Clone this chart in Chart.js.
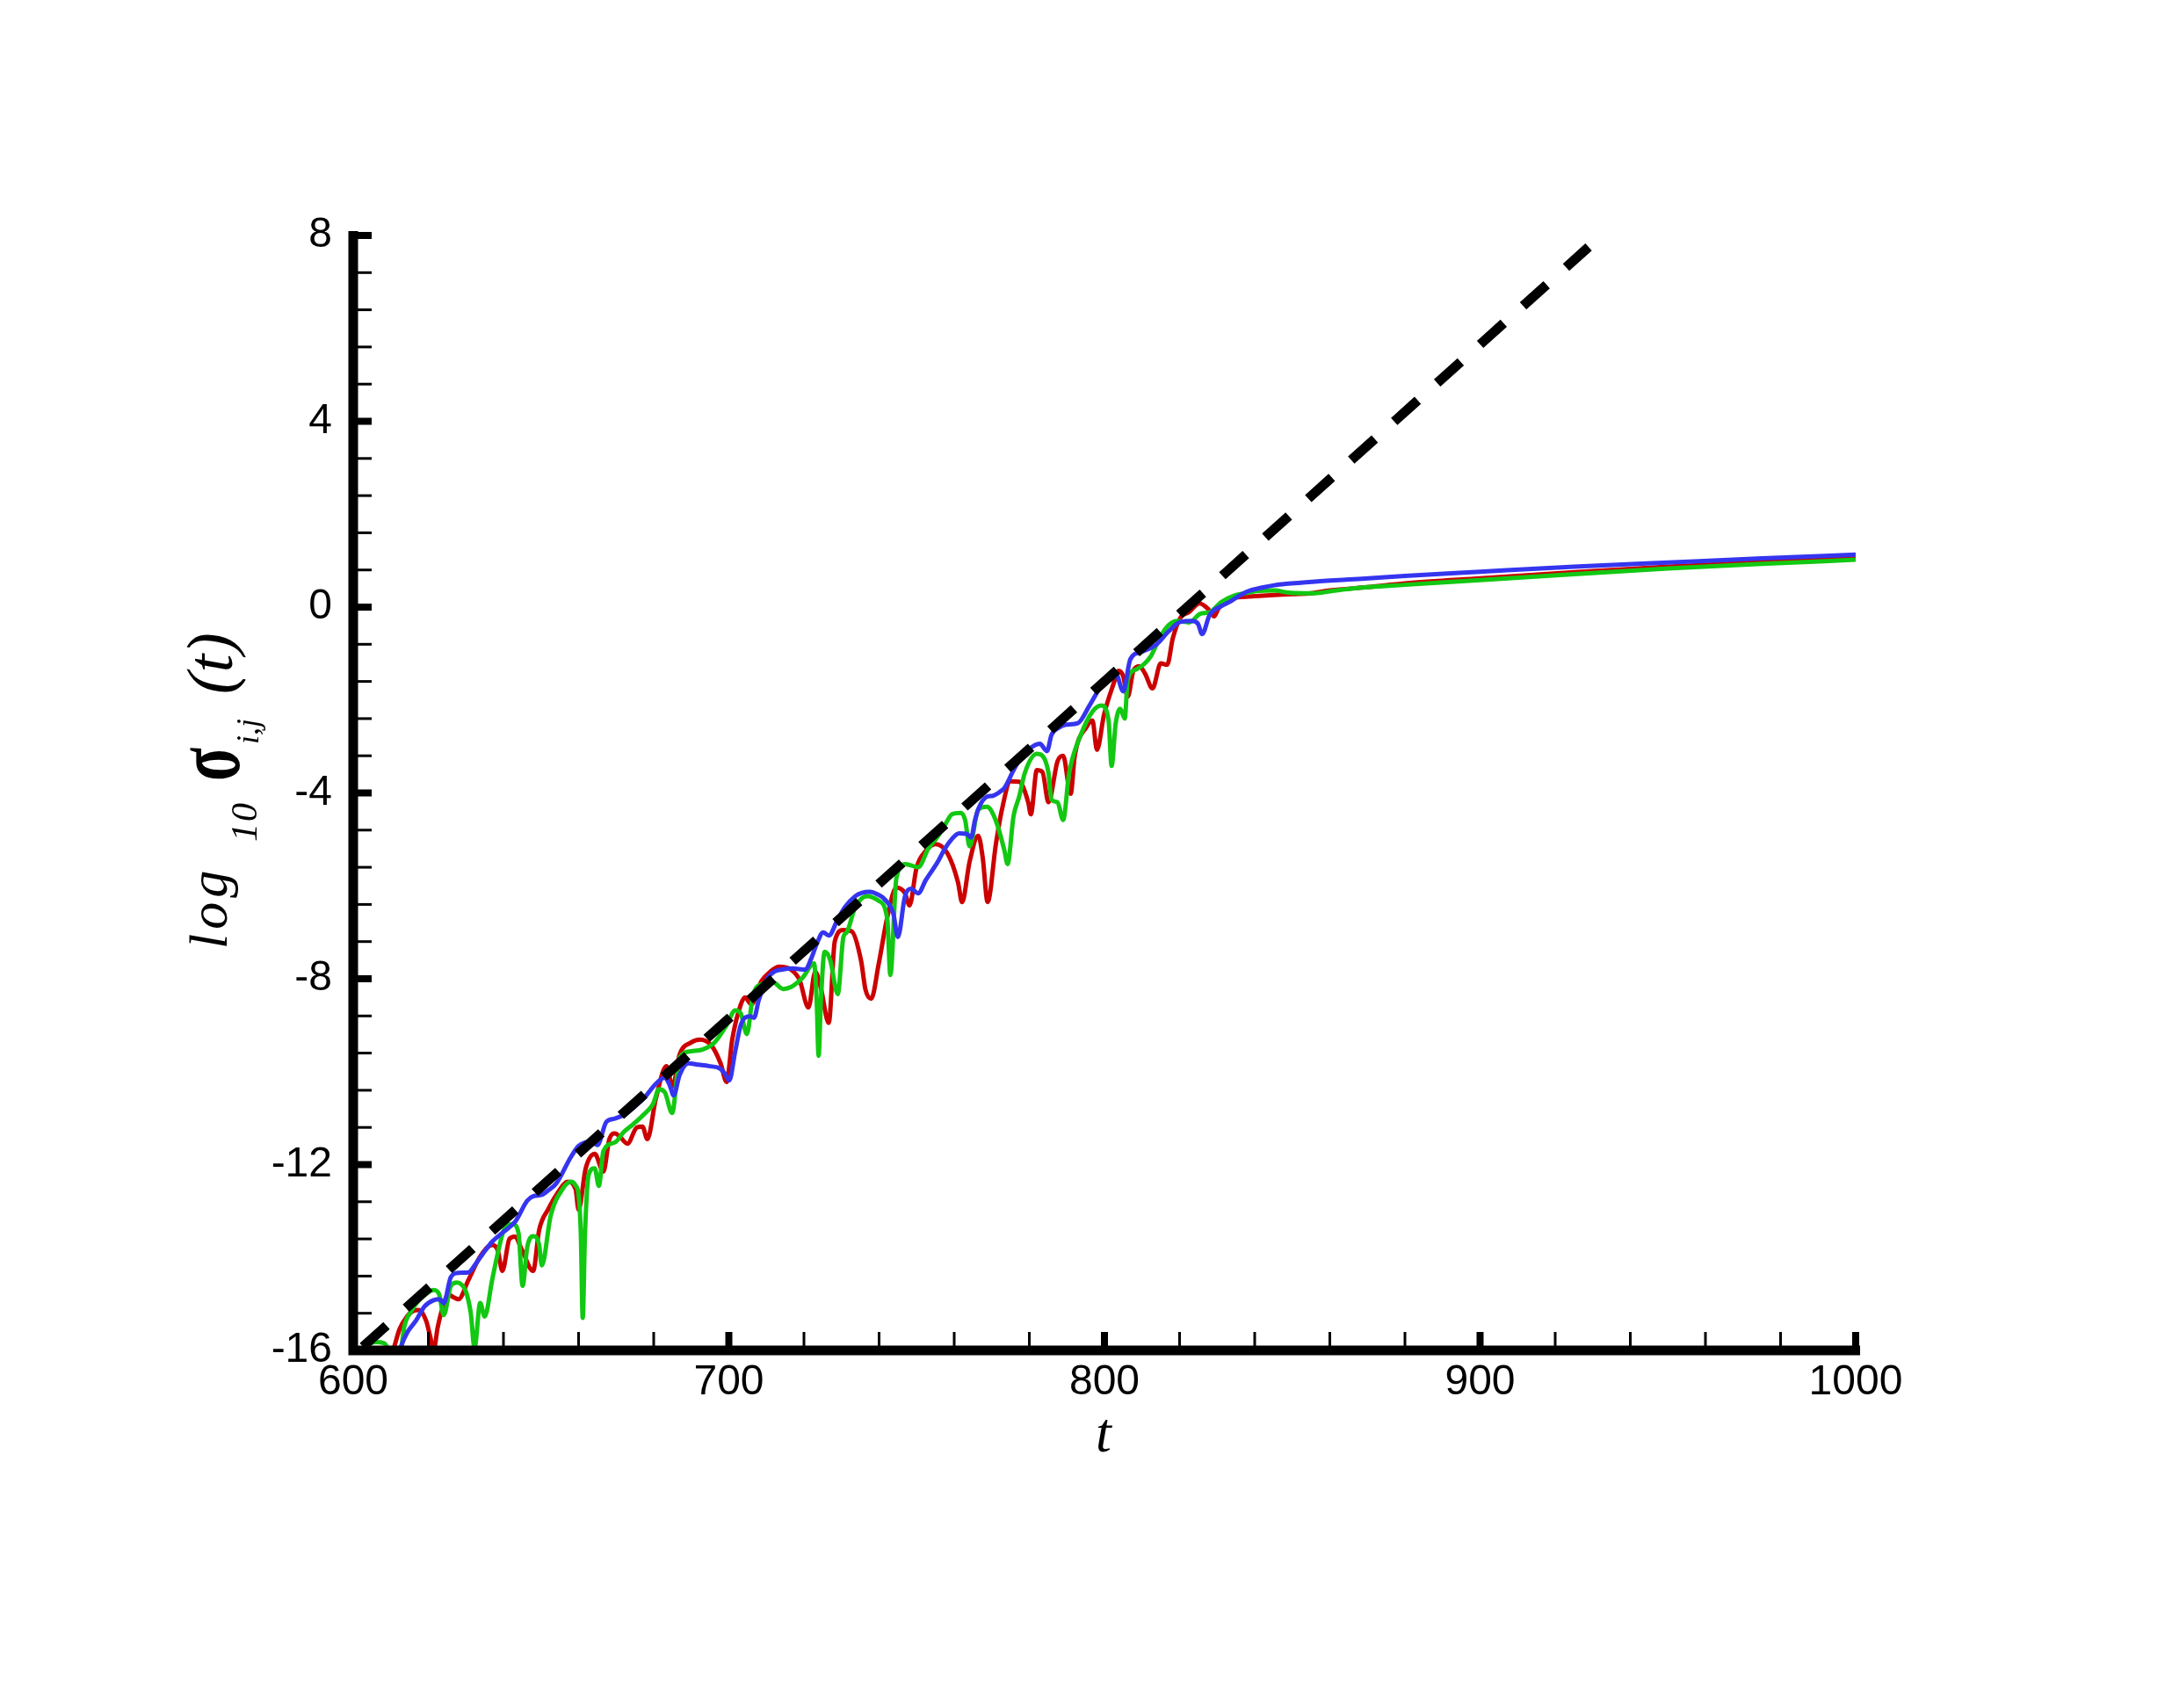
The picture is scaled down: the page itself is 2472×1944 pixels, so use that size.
<!DOCTYPE html>
<html>
<head>
<meta charset="utf-8">
<script src="https://cdn.jsdelivr.net/npm/chart.js@4"></script>
<style>
  html, body { margin: 0; padding: 0; background: #fff; }
  canvas { display: block; }
</style>
</head>
<body>
<canvas id="chart" width="2472" height="1944"></canvas>
<script>
// fitted growth rate (dashed)
const fitT = [602.6, 928.9];
const fitV = [-15.92, 7.75];

const redT = [609.5, 611, 612.3, 614.3, 616, 617.5, 619.4, 620.5, 621.4, 622.5, 623.7, 625.3, 626.8, 628, 630.7, 633.8, 637, 638.5, 639.7, 641.6, 643, 645, 647.9, 649.5, 652, 654.1, 657.2, 659.2, 660, 661.9, 664.3, 666.6, 668.2, 669.7, 671, 673, 675.5, 677, 678.3, 680.6, 683.4, 685, 686.9, 690, 692.3, 695.4, 697.8, 699.4, 700.9, 703.2, 704.3, 706, 708.7, 711, 713.4, 716.5, 718.8, 721.2, 723, 724.5, 726.6, 728.2, 730.5, 732.7, 735.2, 736.4, 737.9, 739.9, 742.2, 744.6, 746.9, 748.1, 750, 752.4, 755, 758.2, 761, 762.1, 764.1, 766.4, 767.6, 768.9, 771.1, 772.6, 775, 777.3, 779.7, 780.4, 782, 783.5, 785.1, 787.5, 789, 791, 792.1, 795.3, 796.8, 798, 799.9, 802.3, 803.8, 805, 806.2, 807.7, 809.3, 810.8, 812.8, 815, 816.7, 818.2, 820.2, 822.5, 825.3, 827.6, 829.2, 830.3, 833.5, 837.4, 845, 850, 855, 860, 870, 880, 900, 925, 950, 975, 1000];
const redV = [-16.3, -15.9, -15.55, -15.27, -15.15, -15.13, -15.36, -15.7, -16.0, -15.5, -15.11, -14.8, -14.86, -14.9, -14.48, -13.98, -13.73, -13.85, -14.29, -13.6, -13.55, -13.85, -14.29, -13.41, -12.95, -12.65, -12.37, -12.53, -12.97, -12.08, -11.77, -12.15, -11.45, -11.33, -11.4, -11.55, -11.2, -11.18, -11.45, -10.57, -9.88, -10.32, -9.63, -9.37, -9.31, -9.44, -9.82, -10.22, -9.31, -8.55, -8.4, -8.55, -8.05, -7.85, -7.74, -7.8, -8.02, -8.62, -7.85, -8.2, -8.95, -7.2, -6.95, -6.98, -7.61, -8.24, -8.43, -7.68, -6.67, -6.04, -6.16, -6.42, -5.6, -5.25, -5.1, -5.3, -5.92, -6.35, -5.48, -4.92, -5.4, -6.35, -5.1, -4.4, -3.75, -3.76, -4.2, -4.46, -3.51, -3.55, -4.2, -3.32, -3.2, -4.02, -3.2, -2.57, -2.44, -3.07, -2.31, -1.68, -1.37, -1.49, -1.93, -1.37, -1.27, -1.43, -1.75, -1.21, -1.24, -0.67, -0.23, -0.11, 0.08, -0.04, -0.2, -0.04, 0.18, 0.22, 0.26, 0.28, 0.3, 0.36, 0.43, 0.51, 0.62, 0.75, 0.87, 0.97, 1.06];

const greenT = [602.5, 604.2, 606, 608.1, 609.5, 610.5, 612.5, 613.6, 615.5, 617.5, 619.5, 621.4, 622.9, 624.1, 626, 627.6, 628.8, 630, 631.3, 632.3, 633.8, 635, 637, 638.5, 640.1, 642.4, 644, 645.1, 646.3, 647.9, 649.5, 650.2, 652.6, 655.7, 658, 659.2, 660, 660.6, 661.1, 661.7, 662.7, 664.3, 665.4, 666.6, 669.7, 672, 674.4, 677, 679.8, 681.4, 683, 684.9, 686.9, 690, 693.1, 696.2, 699.4, 701.7, 703.2, 704.8, 706.4, 708.7, 711.8, 714.5, 716.5, 719.6, 722.7, 723.4, 723.9, 724.5, 725.5, 727, 729, 730.5, 731.4, 733.6, 736.7, 739.9, 742.2, 743, 744.6, 747, 750.4, 753.1, 755.5, 757.8, 759.4, 761.7, 762.9, 764.1, 766.4, 768.7, 771.1, 773.4, 774.2, 775.8, 777.3, 778.8, 782, 783.5, 785.1, 785.9, 787.5, 789, 790.6, 793.7, 796.8, 799.2, 801.1, 801.9, 803, 804.2, 805.4, 806.2, 808.5, 812.4, 813.9, 816.3, 819.4, 822.5, 825.6, 828, 831.1, 834.3, 837.4, 841, 845.2, 849, 853, 856, 860.8, 868.6, 880, 900, 925, 950, 975, 1000];
const greenV = [-16.3, -15.87, -15.82, -15.84, -16.0, -16.3, -16.1, -15.49, -15.15, -14.92, -14.78, -14.7, -14.8, -15.24, -14.61, -14.54, -14.58, -14.73, -15.2, -15.95, -14.98, -15.27, -14.48, -13.9, -13.41, -13.28, -13.47, -14.61, -13.79, -13.54, -13.73, -14.17, -13.09, -12.53, -12.37, -12.45, -12.65, -13.5, -15.3, -13.5, -12.21, -12.08, -12.46, -11.71, -11.52, -11.3, -11.14, -10.95, -10.7, -10.38, -10.45, -10.89, -9.69, -9.56, -9.52, -9.37, -9.0, -8.68, -8.75, -9.19, -8.37, -8.12, -8.08, -8.22, -8.18, -7.98, -7.67, -8.5, -9.66, -8.5, -7.42, -7.6, -8.33, -7.1, -7.0, -6.47, -6.22, -6.32, -6.73, -7.92, -5.84, -5.53, -5.6, -5.2, -4.95, -4.65, -4.46, -4.43, -4.58, -5.15, -4.36, -4.3, -4.6, -5.25, -5.53, -4.5, -4.08, -3.57, -3.16, -3.2, -3.57, -4.14, -4.2, -4.58, -3.57, -2.75, -2.25, -2.12, -2.44, -3.42, -2.5, -2.19, -2.4, -1.56, -1.34, -1.05, -0.8, -0.46, -0.3, -0.33, -0.14, -0.11, 0.11, 0.24, 0.3, 0.35, 0.36, 0.31, 0.3, 0.3, 0.35, 0.42, 0.48, 0.58, 0.71, 0.83, 0.93, 1.02];

const blueT = [611.5, 612.8, 614.5, 616.7, 619, 621.4, 623, 624.1, 626, 628, 630.7, 632.5, 634.6, 637, 640, 643.2, 646.3, 648, 650.2, 652, 654.1, 658, 660, 661.9, 663.5, 665, 667.4, 669.7, 672.8, 675, 677.4, 680.6, 683, 684.3, 685.3, 686.9, 689.2, 692, 694.7, 697.8, 699, 700.1, 701.7, 703.2, 705.6, 706.7, 708, 710.3, 712, 714.2, 717, 720.4, 722, 723.5, 725.1, 726.6, 729, 731, 733.7, 735.5, 737.5, 739.5, 741.5, 743.8, 745, 746.9, 748.5, 750.4, 752.4, 755.5, 757.5, 759.3, 761.3, 763.3, 764.5, 765.5, 766.4, 768.7, 770.3, 772.6, 773.4, 775.8, 777.7, 779.7, 782.8, 784.7, 785.9, 787.8, 789.8, 792.9, 796, 799.2, 801, 803, 805, 806.9, 810, 813.9, 817.1, 820.2, 823.3, 824.9, 826, 828, 831.1, 833.5, 835.8, 838.2, 842, 845.2, 848.3, 856, 868.5, 880, 900, 925, 950, 975, 1000];
const blueV = [-16.3, -15.9, -15.6, -15.36, -15.05, -14.92, -14.9, -14.98, -14.42, -14.33, -14.32, -14.15, -13.91, -13.66, -13.45, -13.22, -12.78, -12.68, -12.65, -12.55, -12.4, -11.83, -11.6, -11.52, -11.5, -11.58, -11.08, -11.01, -10.89, -10.75, -10.57, -10.26, -10.13, -10.3, -10.51, -10.07, -9.82, -9.85, -9.88, -9.94, -10.05, -10.19, -9.56, -8.99, -8.81, -8.84, -8.45, -7.99, -7.85, -7.8, -7.78, -7.8, -7.55, -7.23, -7.0, -7.07, -6.72, -6.45, -6.22, -6.15, -6.13, -6.18, -6.29, -6.6, -7.1, -6.22, -6.06, -6.16, -5.88, -5.5, -5.2, -5.0, -4.87, -4.88, -4.96, -4.6, -4.35, -4.08, -4.06, -3.95, -3.89, -3.51, -3.25, -3.07, -2.94, -3.1, -2.75, -2.6, -2.53, -2.5, -2.12, -1.68, -1.5, -1.43, -1.81, -1.12, -0.96, -0.8, -0.52, -0.32, -0.3, -0.36, -0.58, -0.17, 0.02, 0.12, 0.24, 0.34, 0.42, 0.47, 0.5, 0.55, 0.61, 0.67, 0.76, 0.87, 0.96, 1.05, 1.13];

const xTicks = [600, 700, 800, 900, 1000];
const yTicks = [-16, -12, -8, -4, 0, 4, 8];

const toPoints = (ts, vs) => ts.map((t, i) => ({ x: t, y: vs[i] }));

// thick frame with inward ticks, like the original plot
const axesPlugin = {
    id: 'axesFrame',
    afterDatasetsDraw(chart) {
        const { ctx, chartArea, scales } = chart;
        const x = scales.x, y = scales.y;
        const left = chartArea.left, bottom = chartArea.bottom;
        ctx.save();
        ctx.strokeStyle = '#000';
        ctx.lineCap = 'butt';

        // y minor / major ticks
        for (let i = 0; i <= 30; i++) {
            const py = y.getPixelForValue(-16 + 0.8 * i);
            ctx.lineWidth = i % 5 === 0 ? 8 : 3;
            ctx.beginPath();
            ctx.moveTo(left, py);
            ctx.lineTo(left + 21, py);
            ctx.stroke();
        }
        // x minor / major ticks
        for (let i = 0; i <= 20; i++) {
            const px = x.getPixelForValue(600 + 20 * i);
            ctx.lineWidth = i % 5 === 0 ? 8 : 3;
            ctx.beginPath();
            ctx.moveTo(px, bottom);
            ctx.lineTo(px, bottom - 21);
            ctx.stroke();
        }

        ctx.lineWidth = 11;
        ctx.beginPath();
        ctx.moveTo(left, chartArea.top - 5);
        ctx.lineTo(left, bottom);
        ctx.lineTo(chartArea.right + 5, bottom);
        ctx.stroke();
        ctx.restore();
    }
};

// axis titles with sub-scripts (drawn as text on the canvas)
const titlePlugin = {
    id: 'axisTitles',
    afterDraw(chart) {
        const ctx = chart.ctx;
        const serif = '"Liberation Serif", "Times New Roman", serif';
        ctx.save();
        ctx.fillStyle = '#000';
        ctx.textBaseline = 'alphabetic';
        ctx.textAlign = 'center';
        ctx.font = 'italic 64px ' + serif;
        ctx.fillText('t', 1256, 1652);

        ctx.translate(258, 1080);
        ctx.rotate(-Math.PI / 2);
        ctx.textAlign = 'left';
        ctx.font = 'italic 62px ' + serif;
        ctx.letterSpacing = '5px';
        ctx.fillText('log', 0, 0);
        ctx.letterSpacing = '2px';
        ctx.font = 'italic 42px ' + serif;
        ctx.fillText('10', 122, 34);
        ctx.letterSpacing = '0px';
        // sigma, stretched like the plotting package's symbol font
        ctx.save();
        ctx.translate(191, 14);
        ctx.scale(1, 1.5);
        ctx.font = 'bold 70px ' + serif;
        ctx.fillText('σ', 0, 0);
        ctx.restore();
        ctx.font = 'italic 36px ' + serif;
        ctx.fillText('i,j', 233, 36);
        ctx.font = 'italic 74px ' + serif;
        ctx.fillText('(t)', 290, 6);
        ctx.restore();
    }
};

const lineStyle = color => ({
    showLine: true,
    borderColor: color,
    borderWidth: 5,
    pointRadius: 0,
    cubicInterpolationMode: 'monotone'
});

const ctx = document.getElementById('chart').getContext('2d');

new Chart(ctx, {
    type: 'scatter',
    data: {
        datasets: [
            {
                label: 'fit',
                data: toPoints(fitT, fitV),
                showLine: true,
                borderColor: '#000',
                borderWidth: 11,
                borderDash: [36, 29.7],
                borderCapStyle: 'butt',
                pointRadius: 0
            },
            { label: 'blue', data: toPoints(blueT, blueV), ...lineStyle('#3535f0') },
            { label: 'green', data: toPoints(greenT, greenV), ...lineStyle('#12c812') },
            { label: 'red', data: toPoints(redT, redV), ...lineStyle('#cc0000') }
        ]
    },
    options: {
        responsive: false,
        animation: false,
        events: [],
        layout: {
            padding: { left: 0, top: 268, right: 360, bottom: 307 }
        },
        plugins: {
            legend: { display: false },
            tooltip: { enabled: false }
        },
        scales: {
            x: {
                type: 'linear',
                min: 600,
                max: 1000,
                afterFit: s => { s.height = 100; },
                afterBuildTicks: s => { s.ticks = xTicks.map(v => ({ value: v })); },
                grid: { display: false, drawTicks: false },
                border: { display: false },
                ticks: {
                    autoSkip: false,
                    maxRotation: 0,
                    padding: 8,
                    color: '#000',
                    callback: v => String(v),
                    font: { family: '"Liberation Sans", Arial, sans-serif', size: 48 }
                }
            },
            y: {
                type: 'linear',
                min: -16,
                max: 8,
                afterFit: s => { s.width = 402; },
                afterBuildTicks: s => { s.ticks = yTicks.map(v => ({ value: v })); },
                grid: { display: false, drawTicks: false },
                border: { display: false },
                ticks: {
                    autoSkip: false,
                    padding: 24,
                    color: '#000',
                    callback: v => String(v),
                    font: { family: '"Liberation Sans", Arial, sans-serif', size: 48 }
                }
            }
        }
    },
    plugins: [axesPlugin, titlePlugin]
});
</script>
</body>
</html>
